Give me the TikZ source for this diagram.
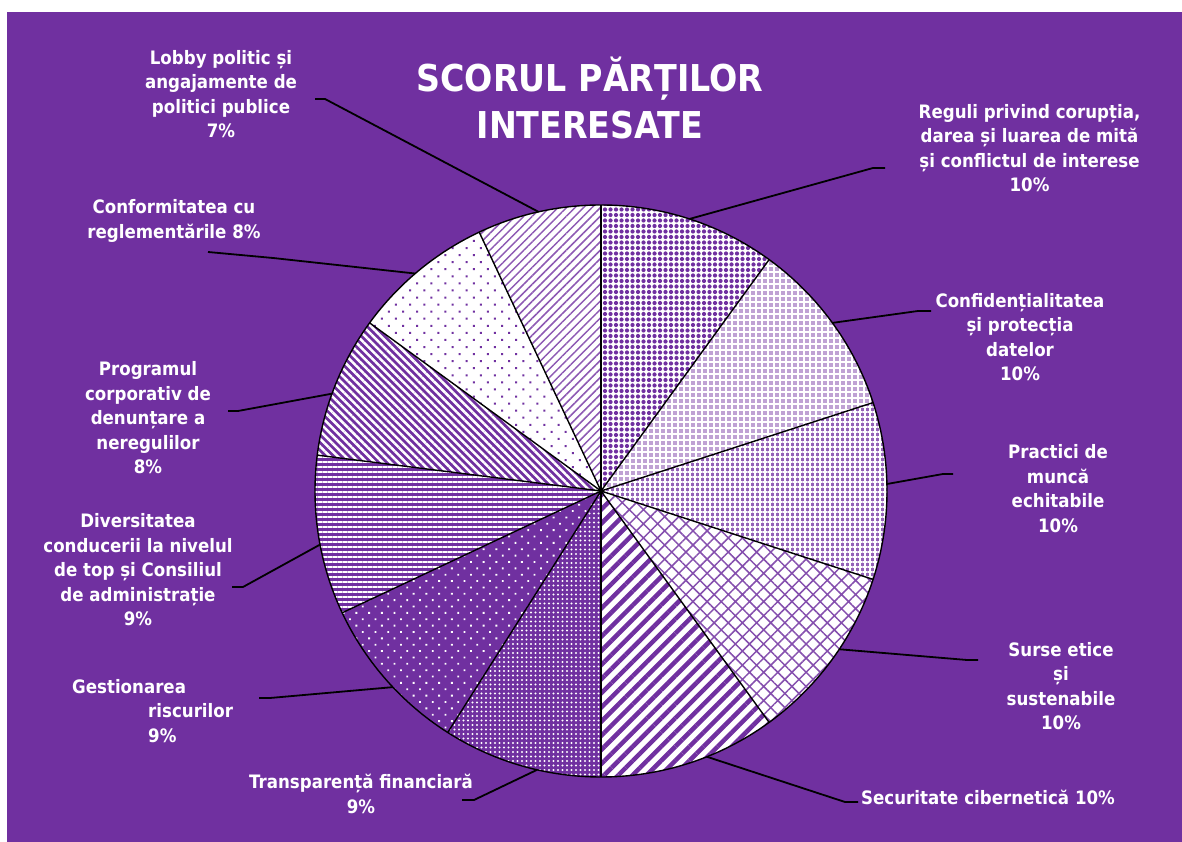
\documentclass[tikz,border=0pt]{standalone}
\usepackage{fontspec}
\setmainfont{DejaVu Sans}[FakeStretch=0.9]
\usetikzlibrary{patterns.meta,calc}
\definecolor{pp}{HTML}{7030A0}
\def\PieR{286}
\newcommand{\pieslice}[5]{%
  \fill[#3] (c) -- ($(c)+(#1:\PieR)$) arc[start angle=#1, end angle=#2, radius=\PieR] -- cycle;
  \fill[pattern={#4}, pattern color=#5] (c) -- ($(c)+(#1:\PieR)$) arc[start angle=#1, end angle=#2, radius=\PieR] -- cycle;
}
\begin{document}
\begin{tikzpicture}[x=1pt,y=1pt,
  lbl/.style={text=white,font=\fontsize{18.5}{24.5}\selectfont\bfseries,align=center,inner sep=0pt},
  ttl/.style={text=white,font=\fontsize{37}{47}\selectfont\bfseries,align=center,inner sep=0pt},
  leader/.style={draw=black,line width=1.8pt,line join=round},
  sep/.style={draw=black,line width=1.4pt}]
\useasboundingbox (0,0) rectangle (1182,842);
\fill[white] (0,0) rectangle (1182,842);
\fill[pp] (7,0) rectangle (1182,830);
\coordinate (c) at (601,351);
% slices
\pieslice{90}{54}{white}{Dots[distance=5.5pt,radius=2.1pt]}{pp}
\pieslice{54}{18}{pp!45!white}{Hatch[angle=0,distance=6pt,line width=1.5pt]}{white}
\pieslice{18}{-18}{pp!75!white}{Hatch[angle=0,distance=5pt,line width=1.3pt]}{white}
\pieslice{-18}{-54}{white}{Hatch[angle=45,distance=10pt,line width=1.5pt]}{pp!85!white}
\pieslice{-54}{-90}{white}{Lines[angle=45,distance=10pt,line width=4.5pt]}{pp}
\pieslice{-90}{-122.4}{pp}{Dots[distance=4.5pt,radius=1.1pt]}{white}
\pieslice{-122.4}{-154.8}{pp}{Dots[angle=45,distance=9pt,radius=1.3pt]}{white}
\pieslice{-154.8}{-187.2}{pp}{Lines[angle=0,distance=5pt,line width=1.8pt]}{white}
\pieslice{-187.2}{-216}{pp}{Lines[angle=-45,distance=5.5pt,line width=2.5pt]}{white}
\pieslice{-216}{-244.8}{white}{Dots[angle=45,distance=10pt,radius=1.4pt]}{pp}
\pieslice{-244.8}{-270}{white}{Lines[angle=45,distance=6pt,line width=1.5pt]}{pp!80!white}
\foreach \a in {90,54,18,-18,-54,-90,-122.4,-154.8,-187.2,-216,-244.8}
  \draw[sep] (c) -- ($(c)+(\a:\PieR)$);
\draw[sep] (c) circle[radius=\PieR];
% title
\node[ttl] (title) at (590,744) {SCORUL PĂRȚILOR\\INTERESATE};
% labels
\node[lbl] (lobby) at (221,748) {Lobby politic și\\angajamente de\\politici publice\\7\%};
\node[lbl] (reguli) at (1029.5,694) {Reguli privind corupția,\\darea și luarea de mită\\și conflictul de interese\\10\%};
\node[lbl] (conf) at (1020,505) {Confidențialitatea\\și protecția\\datelor\\10\%};
\node[lbl] (pract) at (1058,353.5) {Practici de\\muncă\\echitabile\\10\%};
\node[lbl] (surse) at (1061,156) {Surse etice\\și\\sustenabile\\10\%};
\node[lbl] (secu) at (988,45) {Securitate cibernetică 10\%};
\node[lbl] (transp) at (361,48) {Transparență financiară\\9\%};
\node[lbl,align=left,anchor=west] (gest) at (72,131) {Gestionarea\\\hspace*{76pt}riscurilor\\\hspace*{76pt}9\%};
\node[lbl] (divers) at (138,272) {Diversitatea\\conducerii la nivelul\\de top și Consiliul\\de administrație\\9\%};
\node[lbl] (progr) at (148,424) {Programul\\corporativ de\\denunțare a\\neregulilor\\8\%};
\node[lbl] (conform) at (174,621) {Conformitatea cu\\reglementările 8\%};
% leader coordinates
\coordinate (lobbyS) at (315,743); \coordinate (lobbyK) at (325,743);
\coordinate (lobbyP) at ($(c)+(102.6:\PieR)$);
\coordinate (regS) at (885,674); \coordinate (regK) at (873,674);
\coordinate (regP) at ($(c)+(72:\PieR)$);
\coordinate (confS) at (931,531); \coordinate (confK) at (918,531);
\coordinate (confP) at ($(c)+(36:\PieR)$);
\coordinate (practS) at (953,368); \coordinate (practK) at (943,368);
\coordinate (practP) at ($(c)+(1.4:\PieR)$);
\coordinate (surS) at (978,182); \coordinate (surK) at (967,182);
\coordinate (surP) at ($(c)+(-33.6:\PieR)$);
\coordinate (secS) at (858,40); \coordinate (secK) at (845,40);
\coordinate (secP) at ($(c)+(-68.3:\PieR)$);
\coordinate (trS) at (462,42); \coordinate (trK) at (474,42);
\coordinate (trP) at ($(c)+(-102.9:\PieR)$);
\coordinate (geS) at (259,144); \coordinate (geK) at (270,144);
\coordinate (geP) at ($(c)+(-136.7:\PieR)$);
\coordinate (diS) at (232,255); \coordinate (diK) at (243,255);
\coordinate (diP) at ($(c)+(-169.2:\PieR)$);
\coordinate (prS) at (228,431); \coordinate (prK) at (238,431);
\coordinate (prP) at ($(c)+(160.1:\PieR)$);
\coordinate (coS) at (208,590); \coordinate (coK) at (273,584);
\coordinate (coP) at ($(c)+(130.5:\PieR)$);
\foreach \n in {lobby,reg,conf,pract,sur,sec,tr,ge,di,pr,co}
  \draw[leader] (\n S) -- (\n K) -- (\n P);
\end{tikzpicture}
\end{document}
